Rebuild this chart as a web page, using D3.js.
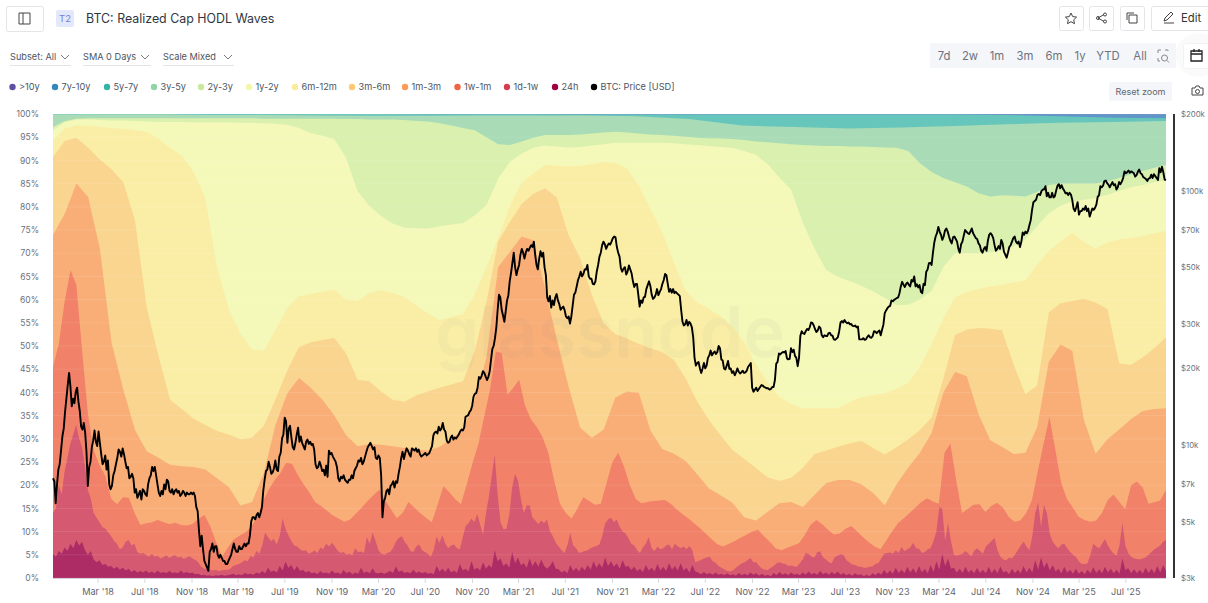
<!DOCTYPE html>
<html>
<head>
<meta charset="utf-8">
<script src="https://cdn.jsdelivr.net/npm/d3@7"></script>
<style>
  html, body { margin: 0; padding: 0; background: #fff; overflow: hidden; }
  text { font-family: Inter, "Noto Sans", sans-serif; }
</style>
</head>
<body>
<svg id="chart" width="1208" height="603"></svg>
<script>
const startDate = new Date(2017, 10, 5);
const endDate = new Date(2025, 9, 15);

const legendNames = [">10y", "7y-10y", "5y-7y", "3y-5y", "2y-3y", "1y-2y", "6m-12m", "3m-6m", "1m-3m", "1w-1m", "1d-1w", "24h", "BTC: Price [USD]"];
const legendColors = ["#5e4fa2", "#3288bd", "#36b3a5", "#90d5a6", "#c9ea9c", "#f2f8a8", "#fbec99", "#fdc976", "#fc9b57", "#f0643f", "#d43d50", "#9e0142", "#000000"];
const rangeLabels = ["7d", "2w", "1m", "3m", "6m", "1y", "YTD", "All"];
const pctTicks = d3.range(0, 101, 5);
const priceTicks = [3000, 5000, 7000, 10000, 20000, 30000, 50000, 70000, 100000, 200000];

// cumulative top edge of each band in percent, evenly spaced over the time domain
const top7y = [99.95, 99.95, 99.95, 99.95, 99.95, 99.95, 99.95, 99.95];
const top5y = [100, 100, 100, 100, 100, 100, 100, 99.95, 99.95, 99.95, 99.9, 99.9, 99.9, 99.9, 99.9, 99.9, 99.9, 99.9, 99.8, 99.5, 99.2, 99.1];
const top3y = [99.9, 99.9, 99.9, 99.8, 99.8, 99.7, 99.6, 99.6, 99.7, 99.7, 99.7, 99.5, 98.9, 97.5, 97.2, 96.9, 97.1, 97.4, 97.8, 98.1, 98.3, 98.5];
const top2y = [
  97.2, 98.5, 99, 99.1, 99.1, 99.1, 99.1, 99.1, 99.1, 99.1, 99.1, 99.1,
  99.1, 99.1, 99.1, 99.1, 99.1, 99.1, 99, 99, 99, 99, 99, 99,
  99, 98.9, 98.9, 98.8, 98.8, 98.8, 98.7, 98.5, 98.4, 98, 97.5, 97,
  96.5, 95, 93.5, 93.3, 94.1, 94.9, 95.5, 95.5, 95.5, 95.6, 95.8, 96,
  96.2, 96, 95.8, 95.6, 95.5, 95.3, 95.1, 94.9, 94.8, 94.7, 94.6, 94.4,
  94.1, 93.9, 93.7, 93.5, 93.3, 93.2, 93.1, 93.1, 93, 93, 92.9, 92.8,
  92.7, 92, 89.4, 87.5, 86.2, 85.3, 84.4, 82.9, 82.2, 82.5, 82.4, 82.2,
  83.2, 84.7, 85, 85, 85, 85, 85.5, 86.2, 87, 87.7, 88.4, 89];
const top1y = [
  96.5, 98.2, 98.8, 98.8, 98.7, 98.6, 98.6, 98.5, 98.4, 98.3, 98.3, 98.3,
  98.2, 98.2, 98.2, 98.2, 98.1, 98.1, 98, 97.9, 97.7, 97, 95.9, 95.3,
  94.6, 90.6, 83.4, 80.2, 78, 76.4, 75.5, 75.4, 75.3, 75.8, 76.2, 76.5,
  78.2, 80.4, 86.1, 89.7, 91.5, 92.7, 93.2, 93, 92.8, 92.9, 93.2, 93.5,
  93.8, 93.8, 93.8, 93.8, 93.8, 93.7, 93.5, 93.3, 93.1, 92.9, 92.7, 92,
  91.2, 89.2, 86.3, 83.7, 76.6, 71, 66.4, 64.9, 64, 63, 61.8, 60.4,
  58.8, 58.9, 60, 61.9, 67, 70, 70, 70, 70.2, 70.6, 71.5, 73,
  75.8, 78.6, 80.2, 81.2, 81.5, 81.9, 82.6, 83.4, 84.2, 84.7, 85.3, 85.8];
const top6m = [
  94.4, 96.8, 97.6, 97.4, 97.2, 97, 96.8, 96.5, 96.2, 94.7, 92.7, 91,
  87.5, 81.9, 67, 58, 52.6, 49.3, 49, 53.5, 58.2, 60.7, 61.2, 61.7,
  62.2, 60, 59.7, 61.4, 62, 61.4, 60.5, 58.8, 57, 55.6, 56.2, 56.9,
  61.2, 67, 73.3, 80.2, 85.2, 87.2, 89, 88.8, 88.7, 88.8, 89.2, 89.6,
  89.5, 88.2, 84.6, 79.6, 74.5, 68, 61.9, 59.4, 58, 56.4, 54.1, 50.8,
  46, 42.2, 39, 37.5, 36.6, 36.6, 36.6, 36.6, 37.9, 39, 39.4, 39.8,
  40.8, 42, 45.5, 50.5, 56, 60.5, 61.6, 62.3, 62.8, 63.2, 63.7, 64.1,
  67.5, 70.5, 72.5, 74.4, 72.4, 71, 72.3, 73, 73.3, 73.7, 74.3, 74.8];
const top3m = [
  90.7, 94.2, 94.9, 92.7, 90.2, 88.1, 85.3, 77.1, 58.3, 47.9, 38.4, 36.4,
  34.4, 33, 31.7, 30.9, 29.9, 30.3, 32.8, 38.6, 44.8, 49.8, 50.8, 51.3,
  51.7, 48.5, 42.7, 42.4, 40.2, 38.4, 38, 39.4, 40.2, 41, 41.7, 42.4,
  48.9, 59.5, 72.5, 76.8, 80.6, 82.8, 84, 82, 74, 68.9, 61, 54.9,
  52.6, 51.6, 50.5, 49.5, 48.7, 47, 43, 38, 34, 30.7, 27.6, 25.7,
  23.7, 21.7, 20.9, 21.6, 23.7, 26.7, 27.5, 28.3, 29, 29.5, 28, 26.6,
  28.2, 29.9, 31.9, 34.6, 43, 52.4, 53.5, 53.9, 53.7, 53.4, 46, 39.6,
  41.5, 57.3, 59.2, 59.7, 60.2, 59.4, 58, 46.3, 45.9, 47.5, 49.5, 51.9];
const top1m = [
  73.9, 78.5, 85, 82.1, 71, 50.7, 40.6, 31.9, 27.3, 25.9, 24.4, 24.1,
  23.9, 23.4, 21.5, 19.6, 15.6, 16.4, 22.7, 33.1, 39.8, 43.1, 41, 38.4,
  35.1, 30.8, 28.4, 28.9, 28.7, 28.4, 28, 27.7, 27.4, 28.3, 30, 31.9,
  38.4, 47.6, 67, 70.3, 73.6, 72.8, 62.4, 51.5, 41.3, 32.4, 30.2, 32,
  38.9, 40.2, 39.9, 31.8, 27.8, 26.8, 25.2, 22.3, 19.3, 17.8, 16.2, 13.1,
  12.4, 14.3, 16.1, 16.4, 15.3, 17.9, 20.5, 21.1, 21.1, 20.2, 18.3, 15.7,
  20.2, 23.8, 27, 31.3, 40, 44.4, 43.5, 35.3, 29.7, 28.3, 26.7, 27,
  32.5, 46.6, 50.3, 49, 34, 26.8, 29.9, 32, 34.2, 36, 36.4, 36.6];
const top1w = [
  45.5, 50.5, 59.6, 66.4, 63.2, 49, 35.3, 27.5, 24.3, 22, 17, 15.9, 17.4, 17.3, 14, 11.4,
  11.8, 12, 12.5, 12, 11.6, 11.9, 11.4, 11.3, 11.7, 12.8, 13.6, 11.1, 7.7, 4.6, 6.5, 8.3,
  9.1, 9.8, 11, 13, 16.4, 19, 21, 22.6, 24.8, 24.6, 22.2, 20.2, 18.4, 16.3, 15.5, 14.5,
  13.5, 12.8, 12.1, 12.6, 13.9, 15.2, 16.6, 17.9, 19, 16.8, 14.8, 12.9, 14, 16.4, 15.2, 14,
  13, 12, 15.8, 19.8, 18.5, 17, 15.9, 20.2, 24.8, 28.9, 34.8, 40.7, 48.8, 48.5, 39.5, 41,
  42.7, 37.2, 34.2, 32.6, 30.4, 27, 21, 16, 14, 12.8, 15, 17.4, 16.6, 15.8, 16, 20.5,
  25, 27, 24, 20, 17, 16.1, 16.4, 16.6, 16.7, 16.8, 16, 14.8, 13.8, 12.9, 11.8, 10.8,
  9.6, 8.4, 7.3, 6.8, 7.4, 8, 8.7, 9.3, 10, 10.4, 9, 7.8, 6.4, 6, 6.5, 7,
  7.5, 9.2, 11.5, 12.5, 11.6, 10.4, 9.4, 9.6, 10.6, 11.2, 10, 8.8, 7.7, 6.8, 6.2, 8.1,
  10, 11.8, 12.9, 14, 15.2, 16.4, 17.2, 16.5, 16, 27, 29, 21, 14, 14.9, 15.8, 15.9,
  14.2, 15.5, 16.2, 15.2, 13.2, 12.1, 12.4, 14, 16.8, 23, 29, 34.7, 27.7, 20.6, 17, 15.2,
  13.2, 12.5, 12.1, 12.4, 14, 16.8, 18, 16.4, 14.8, 20, 20.8, 19.5, 16, 16.3, 16.7, 19];
const top1d = [
  14, 15, 20, 18, 23, 26, 29, 31, 33, 30, 28, 24, 19, 17, 14, 13, 12, 11, 10.6, 9.8, 9, 8, 7.4, 6.2, 6.6, 7.8, 8.2, 7, 7.4, 5.6, 5.2, 5.4,
  5, 4.6, 5.2, 4.6, 4.8, 4.2, 4.5, 4.9, 4.3, 4.7, 4.9, 4.4, 4.6, 4.1, 4.4, 4.7, 4.2, 3.9, 3.4, 2.4, 2, 1.9, 1.8, 1.6, 1.8, 1.5, 1.6, 1.8, 1.7, 2, 2.6, 2.8,
  3, 3.4, 3.8, 3.6, 4.8, 4.4, 5.8, 5.2, 7, 9.8, 8.8, 8, 8.4, 7.2, 9, 12.8, 10.6, 9.2, 8, 7, 6.8, 6.2, 5.8, 6, 5.2, 5.5, 5.9, 5.4, 6.6, 6.2, 7.4, 6.8,
  7.6, 6.8, 5.8, 5.4, 5.6, 5, 5.2, 4.9, 6.4, 5.6, 5.7, 5.4, 8.8, 7.4, 9.8, 8, 6, 5.2, 5, 5.4, 5.6, 6.4, 7.8, 8.6, 9, 7.8, 7, 5.8, 5.6, 6.8, 7.2, 6,
  5.6, 5.2, 4.5, 6, 8.9, 7.6, 9.2, 7.4, 6.4, 7, 7.2, 6.4, 6.2, 8.8, 11.2, 11.8, 12.8, 12, 13.8, 11.5, 9.4, 14, 17.5, 22, 26.5, 18, 12, 10.5, 10.6, 13.5, 19.5, 22.4,
  21, 17, 14, 15.6, 15.6, 13, 12.4, 11.6, 12.4, 11.8, 12.6, 10, 9, 7.6, 6.8, 6, 5.4, 7, 9.7, 7, 6.4, 5.4, 5.6, 5.8, 6, 6.4, 6.7, 6.9, 7.2, 9, 11.8, 12.6,
  13, 12, 12.6, 11, 10, 9.6, 8.6, 7.4, 7, 6, 5.4, 6.6, 7.4, 8.8, 6.4, 5.8, 6.8, 6.2, 6.4, 7, 7.2, 6.2, 7.4, 6.8, 6.4, 6.8, 6.2, 6.9, 6, 3.4, 3.6, 3.9,
  4.2, 4.4, 4.6, 3.6, 3.3, 2.6, 2.2, 1.9, 1.5, 1.4, 1.6, 2.2, 2.7, 3.1, 3.4, 3.8, 4.3, 3.4, 3.4, 2.6, 2, 1.8, 1.7, 2.2, 2.6, 3.2, 3.4, 3.1, 3, 2.6, 2.7, 2.5,
  2.4, 3.2, 4, 5.4, 5.2, 4.6, 4.4, 5.6, 5.7, 4.4, 4, 3.4, 3.2, 4.5, 4.8, 5.1, 5, 3.8, 3.4, 2.9, 2.8, 2.5, 2.4, 2.2, 2.2, 2.4, 2.5, 3, 3.2, 4.2, 5.2, 5.4,
  5.5, 5.2, 6, 5.4, 6.7, 5.8, 6.2, 6.6, 7.6, 6.4, 6.3, 5.4, 5.6, 6.2, 6.4, 8, 10, 15.3, 15, 8, 11.9, 8, 5, 4.8, 5, 5.2, 5.8, 5.2, 4.7, 5.8, 6.4, 5.8,
  5.2, 6.8, 7.4, 8, 8.6, 6, 4.6, 4, 3.8, 4.4, 4.2, 5, 6, 7, 7.8, 6.8, 6, 9, 14, 16.2, 11, 15.8, 14, 9.5, 7.8, 7, 6.4, 7.2, 7.4, 6.4, 5.6, 5,
  4.5, 3.6, 3, 3, 3.2, 5, 7.4, 6.8, 6.4, 7.4, 8.4, 7, 6, 5.2, 4.8, 7, 11.9, 7, 5.4, 4.6, 4.2, 4.1, 4, 4.2, 4.4, 5, 5.6, 6.2, 6.6, 7, 7.8, 8.2];
const top24h = [
  5.2, 4.6, 5.8, 5.2, 6.6, 5.8, 7.4, 6.4, 8.2, 7, 7.8, 6, 5, 5.8, 4, 3.4, 3.8, 2.8, 3, 2.4, 2.6, 2, 2.4, 1.8, 2.2, 1.6, 2, 1.3, 1.7, 1.2, 1.5, 1.2,
  1.6, 1.1, 1.4, 1, 1.6, 1.1, 1.3, 1, 1.5, 1.1, 1.2, 1, 1.6, 1, 1.3, 1, 1.2, 0.8, 0.9, 0.6, 0.7, 0.5, 0.6, 0.4, 0.6, 0.5, 0.7, 0.5, 0.6, 0.7, 0.9, 0.6,
  0.8, 0.6, 1.1, 0.8, 0.9, 0.7, 1.2, 0.9, 1.5, 1, 2.2, 1.3, 1.6, 1.2, 2.6, 1.6, 3.5, 2.2, 2.8, 1.6, 2.6, 1.5, 1.8, 1.2, 1.5, 1, 1.2, 0.8, 1.5, 1, 1.2, 0.9,
  1.6, 1, 1.2, 0.8, 1.7, 1, 1.4, 0.8, 1.2, 0.9, 2.2, 1.1, 1.4, 1, 2.1, 1.1, 1, 1.2, 0.9, 1.2, 1.5, 1.1, 2.5, 1.3, 1.6, 1.1, 1.3, 1, 1.8, 1.1, 1.4, 1,
  1.3, 0.9, 1.1, 0.8, 2.6, 1.4, 2, 1.3, 2.2, 1.2, 1.6, 1.1, 3, 1.6, 2, 1.4, 3.6, 1.8, 2.2, 1.6, 3.4, 2, 2.8, 2.2, 6, 3.6, 4.2, 2.6, 3.2, 2.2, 5.6, 3.2,
  4.4, 2.8, 3.2, 2.2, 4.2, 2.6, 3.6, 2.4, 4, 2.6, 2, 2.6, 3.6, 2, 1.9, 1.2, 1.6, 1, 2.8, 1.5, 2.2, 1.4, 2.4, 1.6, 2.8, 1.8, 3.6, 2.2, 3.2, 2.2, 4.4, 2.6,
  3.6, 2.4, 3.2, 2, 3.8, 2.4, 2.6, 1.7, 2.4, 1.5, 2, 1.3, 2.8, 1.6, 2.2, 1.4, 3, 1.6, 2.4, 1.5, 3.2, 1.8, 2.6, 1.6, 3.2, 1.6, 2.2, 1.2, 2.8, 1.4, 1.2, 0.8,
  1.3, 0.8, 1.1, 0.7, 1.2, 0.7, 0.9, 0.6, 1, 0.6, 0.8, 0.5, 1.1, 0.6, 0.9, 0.6, 1.2, 0.7, 1, 0.5, 0.9, 0.5, 0.7, 0.4, 1.1, 0.6, 1.3, 0.7, 1, 0.6, 1.2, 0.7,
  0.9, 0.6, 1.2, 0.7, 1.4, 0.8, 1.1, 0.7, 1.5, 0.8, 1.2, 0.7, 1.3, 0.8, 1.4, 0.7, 1.1, 0.6, 0.9, 0.5, 1, 0.6, 0.8, 0.4, 0.7, 0.4, 1, 0.6, 1.2, 0.7, 1.7, 0.9,
  1.6, 0.9, 2.2, 1.1, 1.8, 1, 2.4, 1.2, 2.1, 1, 2.6, 1.2, 2, 1, 2.8, 1.3, 3.6, 1.8, 5.2, 2.6, 4.2, 2, 2.2, 1.2, 2, 1.1, 2.4, 1.2, 1.8, 1, 2.2, 1.1,
  1.8, 1, 2.4, 1.1, 2, 1, 2.5, 1.2, 1.5, 0.8, 2, 1, 1.8, 1, 2.6, 1.2, 2.2, 1.2, 3.8, 1.8, 4.4, 2.2, 3.4, 1.6, 2.8, 1.4, 2, 1, 2.4, 1.2, 1.8, 0.9,
  2, 0.9, 1.5, 0.8, 1.8, 1, 2.3, 1.1, 1.9, 1, 2.4, 1.2, 2, 1, 1.8, 0.9, 4.2, 1.7, 2.1, 1, 1.9, 1, 1.8, 0.9, 2.2, 1.1, 2, 1, 2.6, 1.2, 2.8, 1.5];

// BTC price in $k, two values a week, one row a quarter
const priceK = [
  7.4, 7.2, 5.9, 7.0, 8.0, 8.4, 9.5, 10.8, 11.6, 13.5, 15.2, 17.2, 19.2, 17, 14.2, 15.2, 14.6, 16.2, 16.8, 14.8, 13.6, 11.8, 11.5, 12.2, 11.2, 9.4,
  6.9, 8.2, 8.6, 9.8, 10.4, 11.4, 10.3, 9.9, 11.3, 10.2, 9.2, 8.4, 8.6, 9.1, 8.0, 8.7, 7.0, 6.7, 6.9, 7.6, 7.9, 8.4, 8.9, 9.6, 9.4, 9.0,
  9.7, 9.2, 8.6, 8.1, 8.2, 7.4, 7.5, 7.7, 7.4, 6.5, 6.7, 6.2, 6.4, 6.6, 6.1, 6.7, 6.6, 6.4, 6.3, 7.0, 7.4, 7.6, 8.2, 7.9, 8.2, 7.6,
  7.0, 6.5, 6.3, 6.6, 6.4, 7.0, 6.7, 7.3, 7.2, 6.6, 6.5, 6.7, 6.4, 6.6, 6.7, 6.5, 6.6, 6.3, 6.4, 6.6, 6.5, 6.3, 6.5, 6.4, 6.4, 6.5,
  6.4, 6.5, 6.3, 5.7, 5.5, 4.6, 4.0, 4.4, 3.9, 3.5, 3.4, 3.3, 3.2, 3.8, 3.9, 4.1, 3.8, 4.0, 4.0, 3.7, 3.6, 3.7, 3.6, 3.5, 3.5, 3.4,
  3.4, 3.5, 3.6, 3.7, 3.9, 4.1, 3.9, 3.8, 3.8, 4.0, 3.9, 3.9, 4.0, 4.1, 4.0, 4.1, 4.1, 4.4, 5.0, 5.2, 5.2, 5.1, 5.3, 5.4, 5.2, 5.4,
  5.7, 6.6, 7.3, 7.9, 8.0, 8.6, 8.2, 7.7, 7.8, 8.1, 8.7, 8.0, 7.9, 9.0, 9.3, 10.6, 11.0, 12.8, 12.4, 10.2, 11.6, 11.9, 10.7, 9.8, 9.6, 10.2,
  11.0, 11.7, 10.3, 10.8, 10.2, 9.9, 9.6, 10.3, 10.5, 10.1, 10.3, 10.0, 10.1, 9.6, 8.4, 8.1, 8.2, 8.6, 8.3, 7.9, 8.0, 7.6, 8.3, 7.5, 9.5, 9.2,
  9.3, 9.0, 8.8, 8.6, 8.2, 7.4, 7.2, 7.5, 7.4, 7.6, 7.3, 7.2, 7.1, 7.3, 7.3, 7.6, 7.4, 7.9, 8.1, 8.3, 8.7, 8.6, 8.9, 8.4, 8.6, 9.0,
  9.4, 9.8, 10.0, 10.2, 9.9, 9.6, 9.8, 8.9, 8.8, 9.1, 8.9, 7.6, 5.2, 6.0, 6.2, 6.6, 6.7, 6.4, 6.9, 7.0, 7.2, 6.8, 7.2, 7.1, 7.7, 8.2,
  8.9, 9.4, 8.8, 9.3, 9.7, 9.5, 9.2, 9.0, 9.7, 9.6, 9.5, 9.7, 9.4, 9.6, 9.2, 9.0, 9.1, 9.2, 9.3, 9.1, 9.2, 9.3, 9.6, 9.9, 10.9, 11.2,
  11.3, 11.1, 11.8, 11.4, 11.6, 12.2, 11.5, 11.3, 10.4, 10.2, 10.3, 10.7, 10.9, 10.5, 10.7, 10.6, 10.8, 11.0, 11.3, 11.5, 11.4, 11.7, 12.9, 13.0, 13.1, 13.5,
  13.7, 14.3, 15.5, 15.9, 16.0, 16.8, 18.5, 18.2, 18.7, 19.5, 19.2, 18.6, 18.0, 18.5, 19.4, 21.5, 23.8, 24.5, 26.3, 29, 34.0, 39, 38.0, 34, 32.3, 30.5,
  33.5, 37, 38.8, 44, 47.5, 52, 57.0, 50, 46.5, 49, 51.0, 56, 59.0, 57, 54.0, 57, 59.0, 58, 59.5, 61, 60.0, 63, 56.0, 51, 49.0, 54,
  57.8, 55, 57.0, 50, 46.5, 38, 36.7, 38.5, 34.7, 37, 35.5, 38, 39.2, 37, 35.8, 34, 34.6, 35, 33.9, 32, 31.5, 32, 30.0, 32, 35.3, 39,
  39.7, 42, 44.5, 46, 48.0, 46, 47.0, 49, 48.9, 51, 46.0, 45, 45.0, 43, 42.8, 44, 48.1, 51, 55.0, 57, 61.0, 63, 61.5, 59, 60.8, 62,
  61.3, 63, 65.0, 66, 65.5, 60, 57.0, 55, 49.5, 48, 49.3, 50, 46.8, 48, 50.8, 49, 47.3, 44, 41.8, 43, 43.0, 39, 35.0, 37, 36.2, 38,
  38.2, 41, 42.5, 44, 42.2, 39, 37.5, 38, 39.0, 41, 38.8, 40, 41.0, 43, 44.5, 47, 46.5, 43, 40.0, 41, 39.7, 41, 39.5, 40, 39.4, 39,
  38.5, 34, 30.5, 29.5, 29.8, 31, 29.5, 30.5, 30.0, 29, 26.5, 22, 20.5, 21, 21.2, 20, 19.2, 20, 21.0, 20, 20.5, 22, 22.5, 23.5, 22.5, 23,
  23.3, 22.8, 23.2, 24.5, 24.0, 21.7, 21.5, 20, 19.8, 20.5, 21.4, 19.9, 20.0, 19.2, 19.5, 18.8, 19.3, 20, 19.4, 19.1, 19.3, 19.6, 19.2, 19.3, 19.6, 20.3,
  20.6, 21, 16.8, 16.2, 16.5, 16.8, 16.3, 16.6, 16.9, 17.2, 17.1, 16.9, 16.8, 16.7, 16.7, 16.5, 16.6, 16.9, 16.9, 18, 20.9, 21.2, 22.9, 22.7, 23.0, 23.2,
  23.1, 23.4, 21.9, 21.7, 21.8, 24, 23.2, 23.7, 22.4, 22, 20.4, 22, 26.9, 28, 27.5, 27.3, 28.0, 28.6, 28.3, 29, 30.3, 30.2, 29.5, 28.5, 27.8, 28.2,
  29.2, 28.8, 27.0, 26.5, 27.0, 26.8, 26.8, 27.5, 27.6, 27, 26.9, 26, 25.9, 26.2, 26.5, 28, 30.3, 30.7, 30.3, 31, 30.4, 30.1, 30.3, 29.8, 29.9, 29.4,
  29.3, 29.5, 29.0, 29.2, 26.0, 26, 26.0, 26.3, 25.9, 26, 26.6, 27, 26.5, 26.4, 26.8, 28, 27.9, 27.5, 27.9, 28.2, 27.0, 28.4, 29.7, 33, 33.8, 34.5,
  35.0, 35.2, 37.0, 36.7, 37.2, 37.5, 37.8, 38, 39.5, 42, 43.8, 42.7, 41.8, 43, 43.5, 42.6, 42.0, 44.5, 43.9, 46, 42.0, 42.8, 41.6, 42.5, 40.0, 39.5,
  43.0, 42.5, 48.0, 49, 51.8, 52, 51.0, 57, 62.5, 66, 68.0, 72, 69.0, 67, 64.0, 66, 69.7, 71, 69.0, 66, 63.5, 62, 65.5, 66, 64.5, 63,
  59.0, 57, 61.5, 63, 66.5, 70, 69.0, 68, 67.5, 69, 71.0, 68, 66.5, 65, 64.5, 62, 61.0, 58, 57.0, 59, 60.0, 58, 63.5, 67, 68.0, 67,
  65.0, 61, 58.0, 59, 60.5, 59, 64.0, 62, 57.5, 56, 54.5, 57, 60.0, 61, 63.0, 65, 66.0, 63, 62.0, 63, 60.0, 63, 68.5, 67, 69.0, 68,
  69.5, 73, 76.5, 84, 90.0, 91, 92.0, 96, 97.0, 96, 99.5, 101, 101.0, 104, 95.0, 98, 94.0, 94, 98.0, 94, 95.0, 100, 104.5, 106, 102.0, 105,
  102.0, 100, 97.5, 98, 96.0, 98, 96.5, 92, 85.0, 83, 86.0, 90, 80.5, 83, 83.0, 85, 84.0, 87, 83.0, 85, 79.0, 82, 85.0, 84, 85.5, 88,
  94.5, 96, 104.0, 103, 104.5, 109, 109.5, 107, 105.5, 103, 105.5, 108, 105.0, 106, 101.0, 103, 108.0, 106, 108.5, 112, 119.0, 117, 118.0, 120, 117.5, 119,
  118.0, 117, 113.5, 115, 118.5, 121, 117, 116, 113, 112, 111, 109, 111.5, 112, 115.5, 112, 116, 114, 112, 110, 122.5, 118, 124, 118, 110.5, 109.8];

const bands = [
  { values: top7y, color: "#5f97c9" },
  { values: top5y, color: "#67c6bc" },
  { values: top3y, color: "#a9dbb6" },
  { values: top2y, color: "#d9f0ae" },
  { values: top1y, color: "#f4f8b9" },
  { values: top6m, color: "#faeea6" },
  { values: top3m, color: "#f9d590" },
  { values: top1m, color: "#f9ae78" },
  { values: top1w, color: "#f18168" },
  { values: top1d, color: "#d55970" },
  { values: top24h, color: "#ad2c66" }
];

const svg = d3.select("#chart");
const plot = { left: 53, right: 1166, top: 114, bottom: 578 };

const x = d3.scaleTime().domain([startDate, endDate]).range([plot.left, plot.right]);
const yPct = d3.scaleLinear().domain([0, 100]).range([plot.bottom, plot.top]);
const yPrice = d3.scaleLog().domain([3000, 200000]).range([plot.bottom, plot.top]);

// date of the i-th sample of a series of n values
const sampleDate = (i, n) => new Date(+startDate + (endDate - startDate) * i / (n - 1));

// Draw bands, widest first, each one down to zero
svg.append("rect")
  .attr("x", plot.left).attr("y", plot.top)
  .attr("width", plot.right - plot.left).attr("height", 2)
  .attr("fill", "#7f74b8");

bands.forEach((band) => {
  const n = band.values.length;
  const area = d3.area()
    .x((d, i) => x(sampleDate(i, n)))
    .y0(yPct(0))
    .y1((d) => yPct(d));
  svg.append("path").attr("d", area(band.values)).attr("fill", band.color);
});

// Faint grid
svg.append("g")
  .selectAll("line")
  .data(pctTicks)
  .enter()
  .append("line")
  .attr("x1", plot.left).attr("x2", plot.right)
  .attr("y1", (d) => yPct(d)).attr("y2", (d) => yPct(d))
  .attr("stroke", "#ffffff").attr("stroke-opacity", 0.1);

// Watermark
svg.append("text")
  .attr("x", 610).attr("y", 357)
  .attr("text-anchor", "middle")
  .attr("font-size", 70)
  .attr("font-weight", 600)
  .attr("fill", "#8a8a80")
  .attr("fill-opacity", 0.06)
  .text("glassnode");

// Price line
const priceLine = d3.line()
  .x((d, i) => x(sampleDate(i, priceK.length)))
  .y((d) => yPrice(d * 1000));
svg.append("path")
  .attr("d", priceLine(priceK))
  .attr("fill", "none")
  .attr("stroke", "#000")
  .attr("stroke-width", 1.9)
  .attr("stroke-linejoin", "round");

// Axes
const styleAxis = (g, size, color) => {
  g.select(".domain").remove();
  g.selectAll("text")
    .style("font-family", "Inter, sans-serif")
    .style("font-size", size + "px")
    .attr("fill", color);
};

svg.append("g")
  .attr("transform", `translate(39,0)`)
  .call(d3.axisLeft(yPct).tickValues(pctTicks).tickFormat((d) => d + "%").tickSize(0).tickPadding(0))
  .call(styleAxis, 8.5, "#6b7280");

const monthTicks = d3.timeMonths(startDate, endDate).filter((d) => d.getMonth() % 4 === 2);
const xAxisG = svg.append("g")
  .attr("transform", `translate(0,${plot.bottom})`)
  .call(d3.axisBottom(x).tickValues(monthTicks).tickFormat(d3.timeFormat("%b '%y")).tickSize(5).tickPadding(5))
  .call(styleAxis, 9.2, "#5f6672");
xAxisG.selectAll("line").attr("stroke", "#d5d9e0");

svg.append("line")
  .attr("x1", plot.left).attr("x2", plot.right)
  .attr("y1", plot.bottom + 0.5).attr("y2", plot.bottom + 0.5)
  .attr("stroke", "#d8cfd8");

svg.append("line")
  .attr("x1", 1174).attr("x2", 1174)
  .attr("y1", plot.top).attr("y2", plot.bottom)
  .attr("stroke", "#333").attr("stroke-width", 2);

svg.append("g")
  .attr("transform", `translate(1181,0)`)
  .call(d3.axisRight(yPrice).tickValues(priceTicks).tickFormat((d) => "$" + d / 1000 + "k").tickSize(0).tickPadding(0))
  .call(styleAxis, 7.8, "#6b7280");

// Legend
const legendDots = [12.5, 55, 107, 154, 201, 249, 295, 352, 405, 457.5, 507, 555, 594];
const legend = svg.append("g");
legend.selectAll("circle")
  .data(legendNames)
  .enter()
  .append("circle")
  .attr("cx", (d, i) => legendDots[i])
  .attr("cy", 87)
  .attr("r", 3.2)
  .attr("fill", (d, i) => legendColors[i]);
legend.selectAll("text")
  .data(legendNames)
  .enter()
  .append("text")
  .attr("x", (d, i) => legendDots[i] + 6.5)
  .attr("y", 87)
  .attr("dy", "0.35em")
  .attr("font-size", 9.2)
  .attr("fill", "#4b5563")
  .text((d) => d);

// Header
const box = (x0, y0, w, h, fill, stroke, r) =>
  svg.append("rect")
    .attr("x", x0 + 0.5).attr("y", y0 + 0.5).attr("width", w).attr("height", h)
    .attr("rx", r).attr("fill", fill).attr("stroke", stroke);
const label = (tx, ty, str, size, color, anchor) =>
  svg.append("text")
    .attr("x", tx).attr("y", ty).attr("dy", "0.35em")
    .attr("font-size", size).attr("fill", color)
    .attr("text-anchor", anchor || "start")
    .text(str);
const icon = (d, tx, ty) =>
  svg.append("path").attr("d", d)
    .attr("transform", `translate(${tx},${ty})`)
    .attr("fill", "none").attr("stroke", "#444").attr("stroke-width", 1);

box(6, 6, 37, 25, "#fff", "#e3e5e8", 2).attr("width", 37);
icon("M0 0h11v11h-11zM4 0v11", 19, 13);

svg.append("rect").attr("x", 56).attr("y", 10).attr("width", 18).attr("height", 17).attr("rx", 2).attr("fill", "#e4e8fb");
label(65, 18.5, "T2", 9.5, "#6f83d8", "middle");
label(86, 18.5, "BTC: Realized Cap HODL Waves", 12.4, "#2f3640");

// Toolbar buttons
box(1059, 6, 24, 24, "#fff", "#e3e5e8", 2);
icon("M0 -5.5l1.7 3.6 3.9.5-2.9 2.7.8 3.9-3.5-2-3.5 2 .8-3.9-2.9-2.7 3.9-.5z", 1071, 18.5);
box(1089, 6, 24, 24, "#fff", "#e3e5e8", 2);
icon("M-3 0l6-3.5M-3 0l6 3.5M-1.5 0a1.5 1.5 0 1 1-3 0a1.5 1.5 0 1 1 3 0M5.5 -3.5a1.5 1.5 0 1 1-3 0a1.5 1.5 0 1 1 3 0M5.5 3.5a1.5 1.5 0 1 1-3 0a1.5 1.5 0 1 1 3 0", 1101, 18);
box(1120, 6, 24, 24, "#fff", "#e3e5e8", 2);
icon("M-5 2v-7h7M-3 -3h8v8h-8z", 1132, 18);
box(1151, 6, 60, 24, "#fff", "#e3e5e8", 2);
icon("M0 9l1-3 6-6 2 2-6 6zM0 11h10", 1164, 12);
label(1181, 18.5, "Edit", 11.3, "#333");

// Dropdowns
const dropdowns = ["Subset: All", "SMA 0 Days", "Scale Mixed"];
const dropLeft = [10, 83, 163];
const dropRight = [71, 151, 234];
dropdowns.forEach((d, i) => {
  label(dropLeft[i], 57, d, 9.2, "#4b5563");
  icon("M-4 -2l4 4 4-4", dropRight[i] - 6, 57).attr("stroke", "#777");
  svg.append("line")
    .attr("x1", dropLeft[i]).attr("x2", dropRight[i])
    .attr("y1", 65.5).attr("y2", 65.5)
    .attr("stroke", "#e2e4e8");
});

// Range selector
svg.append("rect").attr("x", 930).attr("y", 43).attr("width", 246).attr("height", 25).attr("fill", "#f5f6f9");
const rangeX = [944, 970, 997, 1025, 1054, 1080, 1108, 1140];
rangeLabels.forEach((d, i) => label(rangeX[i], 56, d, 11.3, "#6b7280", "middle"));
icon("M0 3v-3h3M7 0h3v1M0 8v3h2", 1158, 50).attr("stroke", "#888");
icon("M3.5 0a3 3 0 1 1-6 0a3 3 0 1 1 6 0M3 2.5l2 2", 1164, 58).attr("stroke", "#888");

svg.append("circle").attr("cx", 1198).attr("cy", 55).attr("r", 22).attr("fill", "#fafafa");
box(1183, 43, 30, 25, "#fff", "#f2f2f4", 3);
icon("M0 2h11v10h-11zM0 5h11M3 0v3M8 0v3", 1191, 49).attr("stroke-width", 1.3).attr("stroke", "#222");

// Reset zoom and camera
svg.append("rect").attr("x", 1109).attr("y", 82).attr("width", 63).attr("height", 19).attr("rx", 2).attr("fill", "#f5f6f9");
label(1140.5, 91.5, "Reset zoom", 9, "#5f6672", "middle");
icon("M0 2h3l1-2h3l1 2h3v7h-11zM7.5 5.5a2 2 0 1 1-4 0a2 2 0 1 1 4 0", 1192, 86);
</script>
</body>
</html>
